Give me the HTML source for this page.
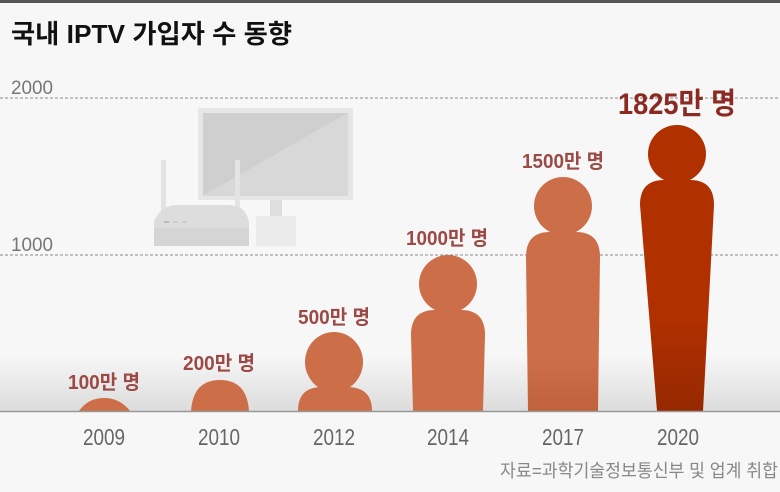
<!DOCTYPE html>
<html><head><meta charset="utf-8"><style>
body{margin:0;width:780px;height:492px;overflow:hidden;background:#f7f7f7;}
svg{display:block}
text{font-family:"Liberation Sans","Noto Sans CJK KR",sans-serif;}
</style></head><body>
<svg width="780" height="492" viewBox="0 0 780 492">
<defs>
<linearGradient id="fl" x1="0" y1="0" x2="0" y2="1"><stop offset="0" stop-color="#f7f7f7"/><stop offset="1" stop-color="#dcdcdc"/></linearGradient>
<linearGradient id="dk" x1="0" y1="0" x2="0" y2="1"><stop offset="0.6" stop-color="#b03000"/><stop offset="1" stop-color="#962800"/></linearGradient>
<linearGradient id="md" x1="0" y1="0" x2="0" y2="1"><stop offset="0.7" stop-color="#cc6e47"/><stop offset="1" stop-color="#c0623c"/></linearGradient>
</defs>
<rect x="0" y="0" width="780" height="492" fill="#f7f7f7"/>
<rect x="0" y="0" width="780" height="3" fill="#555"/>
<rect x="0" y="355" width="780" height="56" fill="url(#fl)"/>
<text x="11" y="43" font-size="26" font-weight="bold" fill="#111" textLength="281" lengthAdjust="spacingAndGlyphs">국내 IPTV 가입자 수 동향</text>
<text x="11" y="94" font-size="19" fill="#777" textLength="42" lengthAdjust="spacingAndGlyphs">2000</text>
<text x="11" y="251" font-size="19" fill="#777" textLength="42" lengthAdjust="spacingAndGlyphs">1000</text>
<line x1="0" y1="98" x2="780" y2="98" stroke="#888" stroke-dasharray="3,2"/>
<line x1="0" y1="255" x2="780" y2="255" stroke="#888" stroke-dasharray="3,2"/>
<rect x="198" y="108" width="155" height="92" fill="#e6e6e6"/>
<polygon points="203,113 348,113 203,196" fill="#cfcfcf"/>
<polygon points="348,113 348,196 203,196" fill="#d8d8d8"/>
<rect x="270" y="200" width="12" height="17" fill="#dedede"/>
<rect x="256" y="216" width="40" height="30" fill="#ebebeb"/>
<rect x="161" y="160" width="5" height="50" fill="#e3e3e3"/>
<rect x="235" y="160" width="5" height="50" fill="#e3e3e3"/>
<path d="M154,245 L154,222 Q160,206 175,205 L230,205 Q246,206 249,222 L249,245 Z" fill="#dddddd"/>
<rect x="154" y="228" width="95" height="18" fill="#d5d5d5"/>
<rect x="164" y="221" width="5" height="2" fill="#bbb"/><rect x="173" y="221" width="5" height="2" fill="#ccc"/><rect x="182" y="221" width="5" height="2" fill="#ccc"/>
<g fill="#cc6e47">
<path d="M79,411 Q88,398 104,398 Q120,398 130,411 Z"/>
<path d="M191,411 Q193,380 220,380 Q247,380 249,411 Z"/>
<ellipse cx="334" cy="362" rx="29" ry="30"/>
<path d="M298,411 Q298,387 322,387 L347,387 Q372,387 372,411 Z"/>
<circle cx="448" cy="284" r="29"/>
<path d="M413,411 L411,335 Q411,310 435,310 L461,310 Q485,310 485,335 L483,411 Z"/>
<circle cx="563" cy="206" r="29"/>
</g>
<path d="M528,411 L526,257 Q526,232 550,232 L576,232 Q600,232 600,257 L598,411 Z" fill="url(#md)"/>
<circle cx="677" cy="154" r="29" fill="#b03000"/>
<path d="M657,411 L640,205 Q640,180 664,180 L690,180 Q714,180 714,205 L703,411 Z" fill="url(#dk)"/>
<line x1="0" y1="411.5" x2="780" y2="411.5" stroke="#999" stroke-width="1.5"/>
<g font-size="20" font-weight="bold" fill="#9b4a45" text-anchor="middle" lengthAdjust="spacingAndGlyphs">
<text x="104" y="389" textLength="72" lengthAdjust="spacingAndGlyphs">100만 명</text>
<text x="219" y="370" textLength="72" lengthAdjust="spacingAndGlyphs">200만 명</text>
<text x="334" y="324" textLength="72" lengthAdjust="spacingAndGlyphs">500만 명</text>
<text x="447" y="245" textLength="82" lengthAdjust="spacingAndGlyphs">1000만 명</text>
<text x="563" y="168" textLength="82" lengthAdjust="spacingAndGlyphs">1500만 명</text>
</g>
<text x="677" y="114" font-size="30" font-weight="bold" fill="#8b2a22" text-anchor="middle" textLength="118" lengthAdjust="spacingAndGlyphs">1825만 명</text>
<g font-size="23" fill="#666" text-anchor="middle">
<text x="104" y="445" textLength="42" lengthAdjust="spacingAndGlyphs">2009</text><text x="219" y="445" textLength="42" lengthAdjust="spacingAndGlyphs">2010</text><text x="334" y="445" textLength="42" lengthAdjust="spacingAndGlyphs">2012</text>
<text x="448" y="445" textLength="42" lengthAdjust="spacingAndGlyphs">2014</text><text x="563" y="445" textLength="42" lengthAdjust="spacingAndGlyphs">2017</text><text x="678" y="445" textLength="42" lengthAdjust="spacingAndGlyphs">2020</text>
</g>
<text x="500" y="477" font-size="18" fill="#888" textLength="278" lengthAdjust="spacingAndGlyphs">자료=과학기술정보통신부 및 업계 취합</text>
</svg>
</body></html>
